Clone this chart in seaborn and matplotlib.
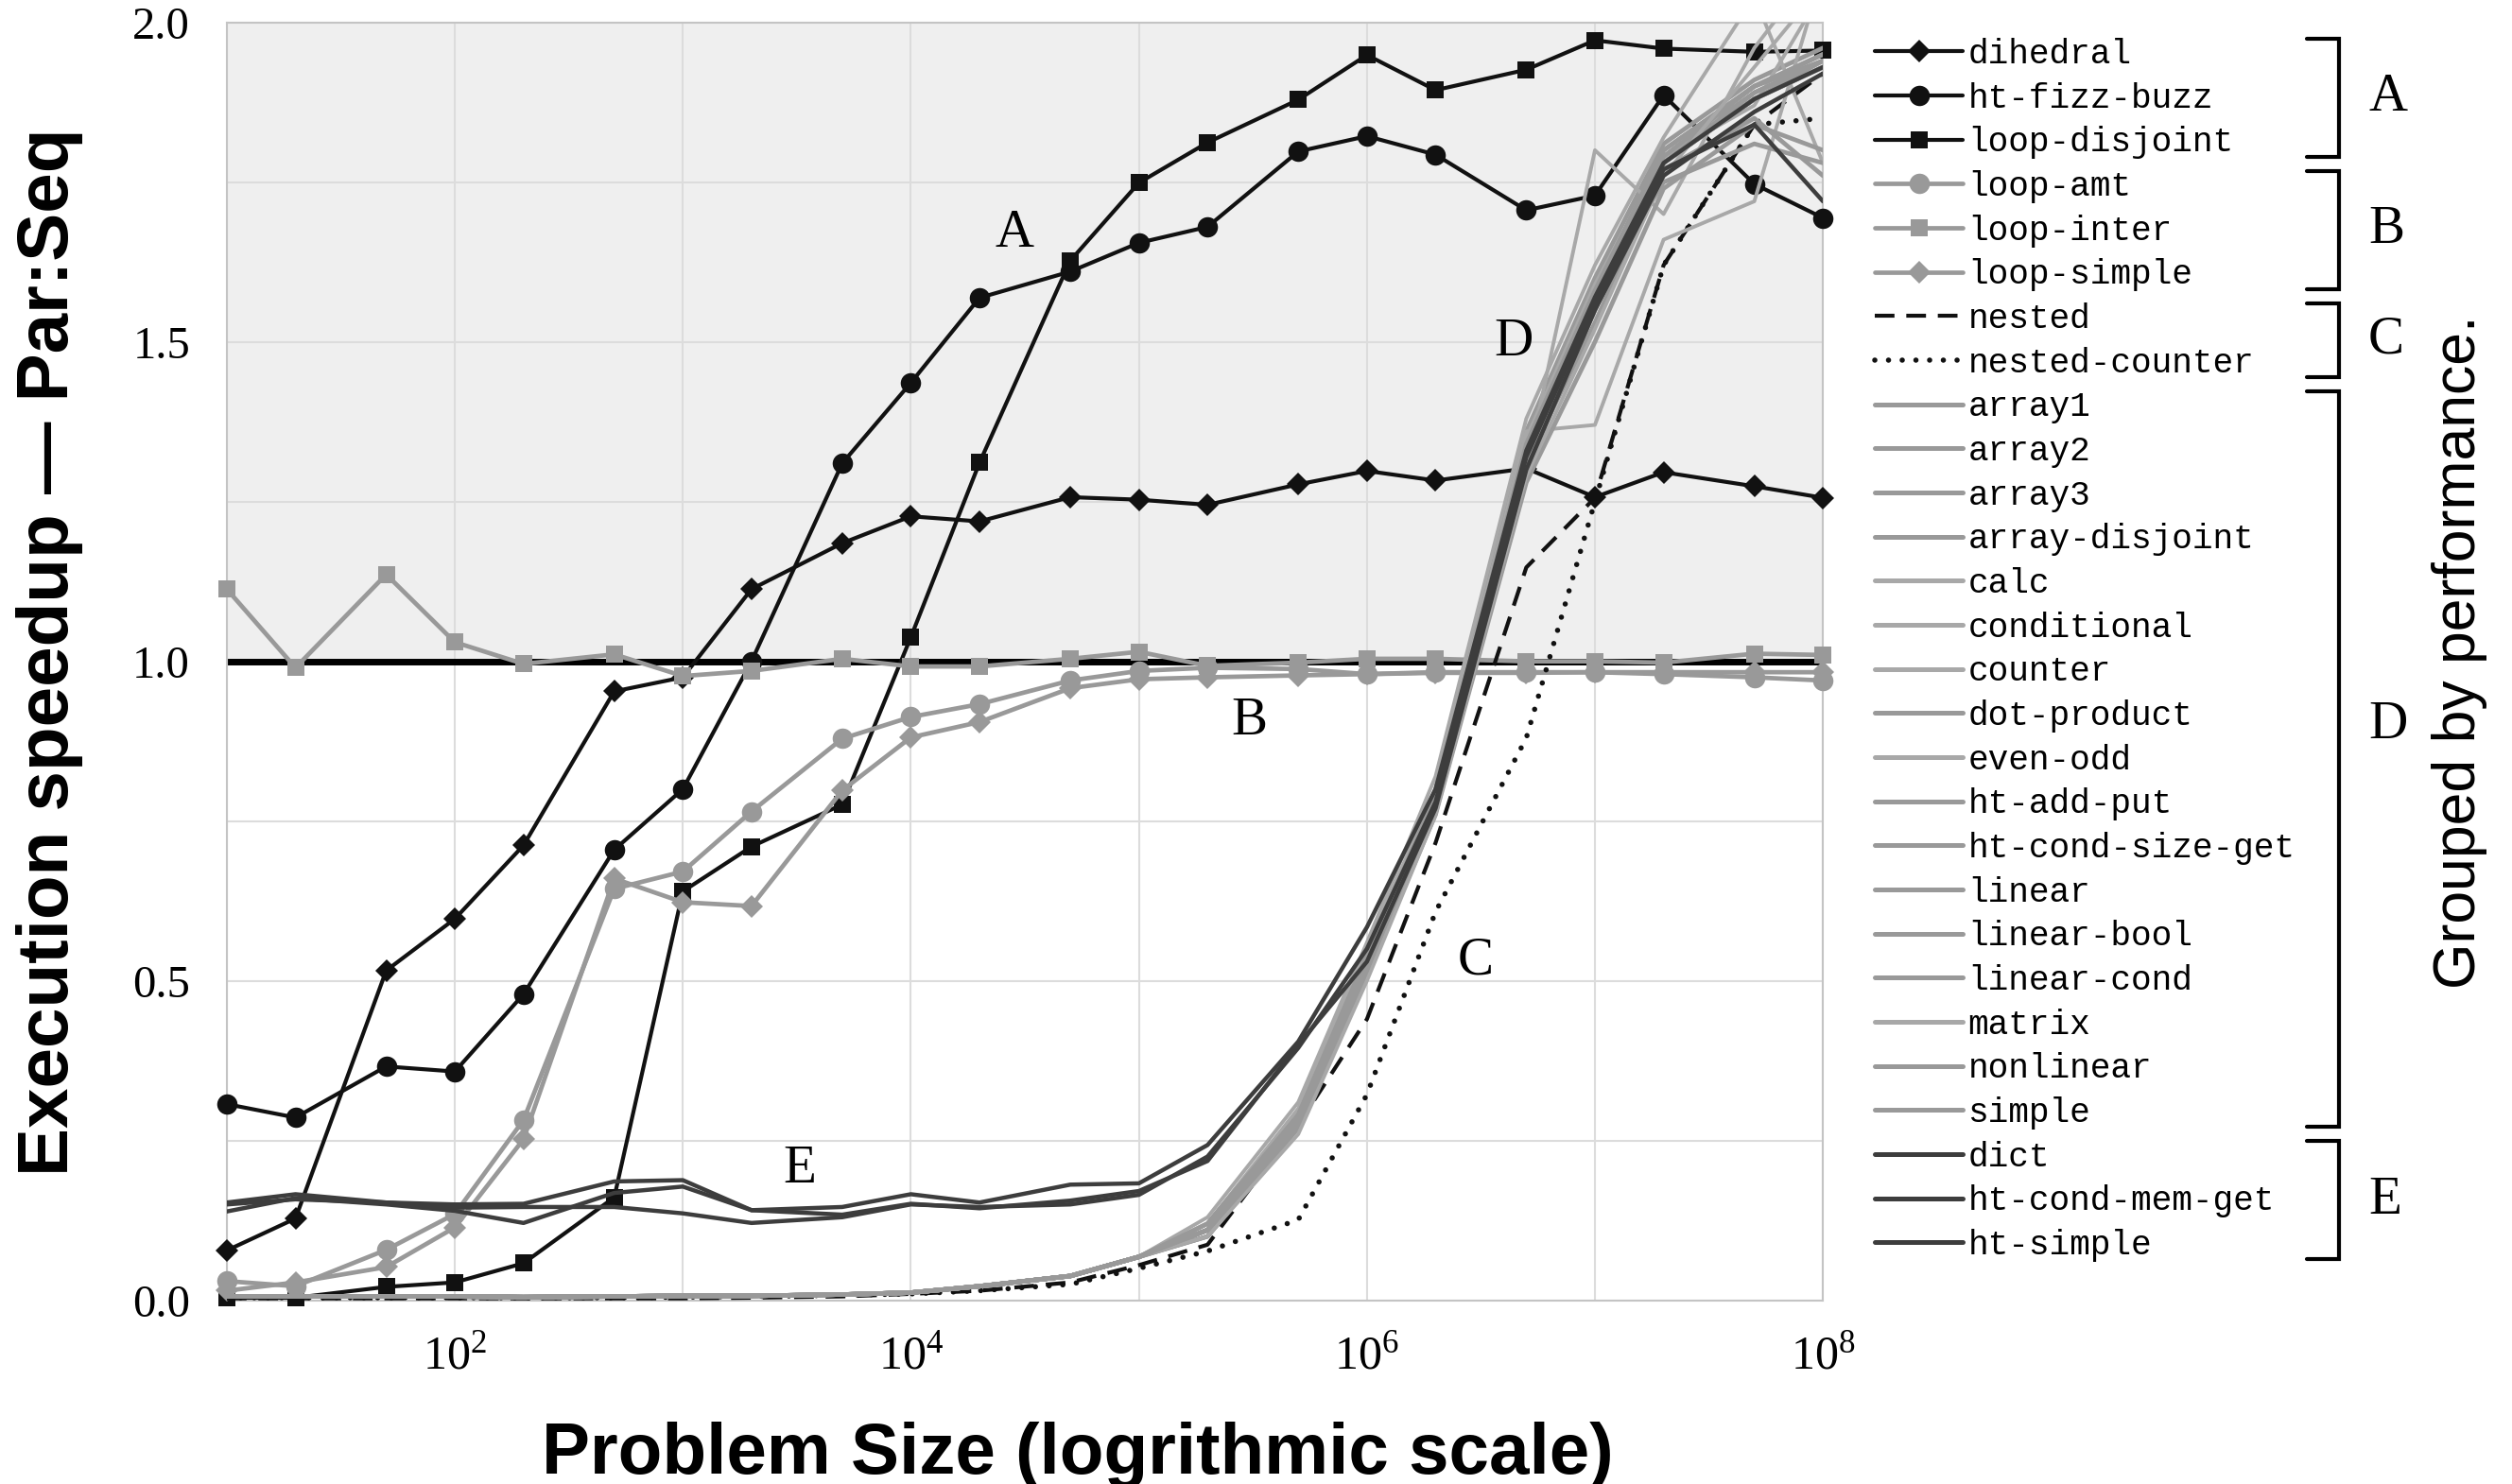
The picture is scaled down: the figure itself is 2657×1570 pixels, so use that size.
import matplotlib
matplotlib.use("Agg")
import matplotlib.pyplot as plt
from matplotlib.lines import Line2D
from matplotlib.ticker import NullLocator
import seaborn as sns

# problem sizes (x axis, log scale)
sizes = [1e1, 2e1, 5e1, 1e2, 2e2, 5e2, 1e3, 2e3, 5e3, 1e4, 2e4, 5e4,
         1e5, 2e5, 5e5, 1e6, 2e6, 5e6, 1e7, 2e7, 5e7, 1e8]

# group A
dihedral = [0.078, 0.128, 0.516, 0.597, 0.712, 0.953, 0.975, 1.113, 1.185, 1.227, 1.219,
            1.257, 1.253, 1.245, 1.277, 1.298, 1.283, 1.302, 1.257, 1.296, 1.274, 1.256]
ht_fizz_buzz = [0.307, 0.286, 0.366, 0.358, 0.479, 0.705, 0.800, 1.000, 1.310, 1.436, 1.569,
                1.610, 1.655, 1.680, 1.798, 1.822, 1.793, 1.706, 1.729, 1.886, 1.747, 1.694]
loop_disjoint = [0.004, 0.004, 0.021, 0.028, 0.058, 0.161, 0.640, 0.710, 0.776, 1.038, 1.311,
                 1.627, 1.749, 1.812, 1.879, 1.949, 1.894, 1.926, 1.972, 1.959, 1.954, 1.956]

# group B
loop_amt = [0.030, 0.022, 0.079, 0.135, 0.282, 0.644, 0.671, 0.765, 0.879, 0.913, 0.933,
            0.970, 0.985, 0.990, 0.988, 0.980, 0.983, 0.983, 0.983, 0.980, 0.975, 0.970]
loop_inter = [1.113, 0.990, 1.136, 1.030, 0.996, 1.011, 0.977, 0.985, 1.004, 0.992, 0.992,
              1.004, 1.015, 0.993, 0.998, 1.004, 1.004, 1.000, 1.000, 0.998, 1.012, 1.010]
loop_simple = [0.015, 0.028, 0.052, 0.114, 0.252, 0.660, 0.623, 0.617, 0.798, 0.881, 0.905,
               0.958, 0.972, 0.975, 0.978, 0.980, 0.982, 0.982, 0.983, 0.983, 0.983, 0.983]

# group C
nested = [0.003, 0.003, 0.003, 0.003, 0.003, 0.003, 0.003, 0.004, 0.006, 0.010, 0.015,
          0.028, 0.055, 0.087, 0.275, 0.440, 0.716, 1.147, 1.256, 1.620, 1.840, 1.920]
nested_counter = [0.004, 0.004, 0.004, 0.004, 0.004, 0.004, 0.005, 0.006, 0.008, 0.010, 0.015,
                  0.025, 0.050, 0.077, 0.126, 0.322, 0.608, 0.880, 1.250, 1.620, 1.840, 1.850]

# group D: nearly identical below 1e5, then each curve (2e5 .. 1e8)
d_low = [0.006, 0.006, 0.006, 0.006, 0.005, 0.006, 0.007, 0.007, 0.009, 0.012, 0.022, 0.038, 0.068]
array1 = d_low + [0.11, 0.28, 0.52, 0.78, 1.32, 1.57, 1.79, 1.89, 1.94]
array2 = d_low + [0.12, 0.29, 0.54, 0.79, 1.34, 1.58, 1.80, 1.90, 1.95]
array3 = d_low + [0.10, 0.27, 0.51, 0.77, 1.30, 1.55, 1.78, 1.88, 1.93]
array_disjoint = d_low + [0.11, 0.28, 0.53, 0.80, 1.36, 1.60, 1.81, 1.91, 1.96]
calc = d_low + [0.13, 0.31, 0.56, 0.82, 1.38, 1.62, 1.82, 2.04, 1.78]
conditional = d_low + [0.11, 0.28, 0.53, 0.78, 1.30, 1.80, 1.70, 1.96, 2.10]
counter = d_low + [0.10, 0.27, 0.52, 0.78, 1.36, 1.37, 1.66, 1.72, 2.08]
dot_product = d_low + [0.11, 0.29, 0.54, 0.79, 1.33, 1.57, 1.75, 1.81, 1.78]
even_odd = d_low + [0.12, 0.30, 0.55, 0.80, 1.35, 1.59, 1.79, 1.87, 2.05]
ht_add_put = d_low + [0.11, 0.28, 0.52, 0.77, 1.31, 1.53, 1.77, 1.85, 1.76]
ht_cond_size_get = d_low + [0.10, 0.27, 0.51, 0.76, 1.28, 1.50, 1.74, 1.84, 1.80]
linear = d_low + [0.11, 0.28, 0.53, 0.78, 1.32, 1.56, 1.78, 1.89, 1.94]
linear_bool = d_low + [0.11, 0.29, 0.53, 0.79, 1.33, 1.57, 1.79, 1.90, 1.95]
linear_cond = d_low + [0.12, 0.29, 0.54, 0.79, 1.34, 1.58, 1.80, 1.90, 1.94]
matrix = d_low + [0.10, 0.26, 0.50, 0.76, 1.29, 1.52, 1.76, 1.93, 2.06]
nonlinear = d_low + [0.11, 0.28, 0.52, 0.78, 1.31, 1.55, 1.78, 1.88, 1.93]
simple = d_low + [0.11, 0.28, 0.53, 0.78, 1.32, 1.56, 1.78, 1.88, 1.94]

# group E
dict_ = [0.153, 0.166, 0.153, 0.150, 0.151, 0.186, 0.188, 0.141, 0.146, 0.166, 0.153,
         0.181, 0.183, 0.243, 0.405, 0.584, 0.800, 1.330, 1.570, 1.780, 1.880, 1.930]
ht_cond_mem_get = [0.139, 0.160, 0.150, 0.140, 0.121, 0.168, 0.178, 0.141, 0.134, 0.151, 0.144,
                   0.156, 0.171, 0.218, 0.400, 0.530, 0.770, 1.300, 1.550, 1.760, 1.860, 1.920]
ht_simple = [0.150, 0.158, 0.153, 0.145, 0.146, 0.146, 0.136, 0.121, 0.130, 0.150, 0.146,
             0.150, 0.165, 0.225, 0.395, 0.550, 0.780, 1.320, 1.560, 1.770, 1.840, 1.720]

BLACK = "#111111"
GRAY = "#999999"
LIGHT = "#a8a8a8"
DARK = "#3d3d3d"

# name, values, group, color, marker, linewidth, linestyle
series = [
    ("dihedral", dihedral, "A", BLACK, "D", 3.0, "-"),
    ("ht-fizz-buzz", ht_fizz_buzz, "A", BLACK, "o", 3.0, "-"),
    ("loop-disjoint", loop_disjoint, "A", BLACK, "s", 3.0, "-"),
    ("loop-amt", loop_amt, "B", GRAY, "o", 3.4, "-"),
    ("loop-inter", loop_inter, "B", GRAY, "s", 3.4, "-"),
    ("loop-simple", loop_simple, "B", GRAY, "D", 3.4, "-"),
    ("nested", nested, "C", BLACK, None, 3.0, (0, (5, 3))),
    ("nested-counter", nested_counter, "C", BLACK, None, 4.0, (0, (0.01, 2.6))),
    ("array1", array1, "D", GRAY, None, 3.4, "-"),
    ("array2", array2, "D", GRAY, None, 3.4, "-"),
    ("array3", array3, "D", GRAY, None, 3.4, "-"),
    ("array-disjoint", array_disjoint, "D", GRAY, None, 3.4, "-"),
    ("calc", calc, "D", LIGHT, None, 2.8, "-"),
    ("conditional", conditional, "D", LIGHT, None, 2.8, "-"),
    ("counter", counter, "D", LIGHT, None, 2.8, "-"),
    ("dot-product", dot_product, "D", GRAY, None, 3.4, "-"),
    ("even-odd", even_odd, "D", LIGHT, None, 2.8, "-"),
    ("ht-add-put", ht_add_put, "D", GRAY, None, 3.4, "-"),
    ("ht-cond-size-get", ht_cond_size_get, "D", GRAY, None, 3.4, "-"),
    ("linear", linear, "D", GRAY, None, 3.4, "-"),
    ("linear-bool", linear_bool, "D", GRAY, None, 3.4, "-"),
    ("linear-cond", linear_cond, "D", GRAY, None, 3.4, "-"),
    ("matrix", matrix, "D", LIGHT, None, 2.8, "-"),
    ("nonlinear", nonlinear, "D", GRAY, None, 3.4, "-"),
    ("simple", simple, "D", GRAY, None, 3.4, "-"),
    ("dict", dict_, "E", DARK, None, 3.2, "-"),
    ("ht-cond-mem-get", ht_cond_mem_get, "E", DARK, None, 3.2, "-"),
    ("ht-simple", ht_simple, "E", DARK, None, 3.2, "-"),
]
marker_size = {"D": 12.5, "o": 15.5, "s": 13}

sns.set_style("white")
plt.rcParams["mathtext.fontset"] = "custom"
plt.rcParams["mathtext.rm"] = "Liberation Serif"
plt.rcParams["mathtext.it"] = "Liberation Serif:italic"
plt.rcParams["mathtext.default"] = "rm"
plt.rcParams["font.family"] = ["Liberation Serif", "DejaVu Serif"]
plt.rcParams["text.color"] = "black"
plt.rcParams["axes.labelcolor"] = "black"
plt.rcParams["xtick.color"] = "black"
plt.rcParams["ytick.color"] = "black"

fig = plt.figure(figsize=(26.57, 15.70), dpi=100)
ax = fig.add_axes([0.0903, 0.1238, 0.6354, 0.8611])

# shaded "speedup" region and the 1.0 reference line
ax.axhspan(1.0, 2.0, color="#efefef", zorder=0, lw=0)
ax.axhline(1.0, color="black", lw=5, zorder=1.5)

handles = {}
for name, vals, grp, col, mk, lw, ls in series:
    kw = dict(color=col, linewidth=lw, estimator=None, sort=False, legend=False)
    if mk:
        kw.update(marker=mk, markersize=marker_size[mk], markeredgewidth=0,
                  markeredgecolor=col, markerfacecolor=col)
    sns.lineplot(x=sizes, y=vals, ax=ax, **kw)
    line = ax.lines[-1]
    cap = "round" if name == "nested-counter" else "butt"
    line.set_linestyle(ls)
    line.set_dash_capstyle(cap)
    line.set_zorder({"A": 3, "B": 3.2, "C": 3.4, "D": 3.6, "E": 3.8}[grp])
    if mk:
        line.set_clip_on(False)
    handles[name] = Line2D([], [], color=col, lw=3.6 if grp in "DE" else lw,
                           linestyle=ls, marker=mk,
                           markersize=marker_size[mk] if mk else 0,
                           markeredgewidth=0, dash_capstyle=cap)

ax.set_xscale("log")
ax.set_xlim(10, 1e8)
ax.set_ylim(0, 2)
ax.xaxis.set_minor_locator(NullLocator())
ax.set_xticks([10 ** k for k in range(1, 9)])
ax.set_xticklabels(["" if k % 2 else r"$10^{%d}$" % k for k in range(1, 9)])
ax.set_yticks([0, 0.5, 1.0, 1.5, 2.0])
ax.set_yticks([0.25, 0.75, 1.25, 1.75], minor=True)
ax.set_yticklabels(["0.0", "0.5", "1.0", "1.5", "2.0"])
ax.tick_params(which="both", length=0)
ax.tick_params(axis="y", pad=28, labelsize=35)
ax.tick_params(axis="x", pad=26, labelsize=36)
ax.grid(True, which="both", color="#dcdcdc", lw=1.5)
ax.set_axisbelow(True)
for sp in ax.spines.values():
    sp.set_color("#c4c4c4")
    sp.set_linewidth(1.5)

for lab, x, y in [("A", 2.84e4, 1.67), ("B", 3.06e5, 0.907), ("C", 2.98e6, 0.531),
                  ("D", 4.4e6, 1.499), ("E", 3.24e3, 0.205)]:
    ax.text(x, y, lab, fontsize=41, ha="center", va="center", family="Liberation Serif", zorder=5)

ax.set_xlabel("Problem Size (logrithmic scale)", fontsize=55, fontweight="bold",
              family="Liberation Sans")
ax.xaxis.set_label_coords(0.533, -0.095)
ax.set_ylabel("Execution speedup \u2014 Par:Seq", fontsize=55, fontweight="bold",
              family="Liberation Sans")
ax.yaxis.set_label_coords(-0.090, 0.507)

names = [s[0] for s in series]
leg = fig.legend([handles[n] for n in names], names, loc="upper left",
                 bbox_to_anchor=(0.7463, 0.9745), frameon=False,
                 prop={"family": "Liberation Mono", "size": 26},
                 handlelength=2.58, handletextpad=0.15, labelspacing=0.323,
                 borderpad=0, borderaxespad=0, numpoints=1)

# group brackets next to the legend
fig.canvas.draw()
renderer = fig.canvas.get_renderer()
inv = fig.transFigure.inverted()
centers = []
for t in leg.get_texts():
    bb = t.get_window_extent(renderer)
    centers.append(inv.transform((bb.x0, (bb.y0 + bb.y1) / 2))[1])

groups = [("A", 0, 2), ("B", 3, 5), ("C", 6, 7), ("D", 8, 24), ("E", 25, 27)]
x0, x1 = 0.9183, 0.9311
pitch = centers[0] - centers[1]
for lab, i0, i1 in groups:
    top = centers[i0] + 17 / 1570
    bot = centers[i1] - 15 / 1570
    fig.add_artist(Line2D([x0, x1, x1, x0], [top, top, bot, bot], color="black",
                          lw=3, solid_joinstyle="miter", transform=fig.transFigure))
    ymid = (top + bot) / 2 if lab != "D" else centers[15] - 0.2 * pitch
    fig.text(0.9428, ymid, lab, fontsize=41, ha="left", va="center", family="Liberation Serif")

fig.text(0.979, 0.5605, "Grouped by performance.", rotation=90, fontsize=45,
         ha="center", va="center", family="Liberation Sans")

fig.savefig("out.png", dpi=100)
